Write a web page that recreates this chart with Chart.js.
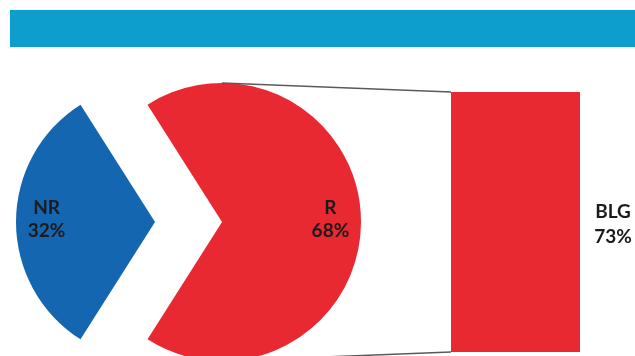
<!DOCTYPE html>
<html>
<head>
<meta charset="utf-8">
<script src="https://cdn.jsdelivr.net/npm/chart.js@4.4.1/dist/chart.umd.min.js"></script>
<style>
  html, body { margin: 0; padding: 0; background: #ffffff; }
  #stage { position: relative; width: 635px; height: 356px; overflow: hidden; }
  #band { position: absolute; left: 10px; top: 10px; width: 625px; height: 37px; background: #0e9ecd; }
  canvas { position: absolute; left: 0; top: 0; }
</style>
</head>
<body>
<div id="stage">
  <div id="band"></div>
  <canvas id="pieNR" width="635" height="356"></canvas>
  <canvas id="pieR" width="635" height="356"></canvas>
  <canvas id="barBLG" width="635" height="356"></canvas>
</div>
<script>
// Pie shares
const pieLabels = ['NR', 'R'];
const pieValues = [32, 68];
const pieColors = ['#1466b0', '#e92932'];

// Breakdown of the R slice
const barLabels = ['BLG'];
const barValues = [73];
const barColor = '#e92932';

const FONT = 'bold 19px Lato, "Open Sans", sans-serif';
const TEXT = '#1b1b1b';
const RADIUS = 139;

// Start so NR is centred on the left and R on the right
const startRotation = 90 + 180 - (pieValues[0] / 100) * 180;

function pieLabelPlugin(visibleIndex) {
  return {
    id: 'sliceLabel' + visibleIndex,
    afterDatasetsDraw(chart) {
      const arc = chart.getDatasetMeta(0).data[visibleIndex];
      const mid = (arc.startAngle + arc.endAngle) / 2;
      const r = arc.outerRadius * 0.78;
      const x = arc.x + Math.cos(mid) * r;
      const y = arc.y + Math.sin(mid) * r;
      const ctx = chart.ctx;
      ctx.save();
      ctx.font = FONT;
      ctx.fillStyle = TEXT;
      ctx.textAlign = 'center';
      ctx.textBaseline = 'middle';
      ctx.fillText(pieLabels[visibleIndex], x, y - 14);
      ctx.fillText(pieValues[visibleIndex] + '%', x, y + 9);
      ctx.restore();
    }
  };
}

function makePie(id, visibleIndex, padding) {
  const colors = pieColors.map((c, i) => i === visibleIndex ? c : 'rgba(0,0,0,0)');
  return new Chart(document.getElementById(id), {
    type: 'pie',
    data: {
      labels: pieLabels,
      datasets: [{
        data: pieValues,
        backgroundColor: colors,
        borderWidth: 0,
        clip: false
      }]
    },
    options: {
      responsive: false,
      animation: false,
      rotation: startRotation,
      radius: RADIUS,
      layout: { padding: padding },
      plugins: { legend: { display: false }, tooltip: { enabled: false } },
      events: []
    },
    plugins: [pieLabelPlugin(visibleIndex)]
  });
}

// The two slices are pulled apart: NR to the left, R to the right
const pieNR = makePie('pieNR', 0, { left: 0, right: 325, top: 88, bottom: 0 });
const pieR = makePie('pieR', 1, { left: 0, right: 191, top: 88, bottom: 0 });

// Connector lines from the R slice to the bar, plus the bar label
const connectorPlugin = {
  id: 'connectors',
  afterDatasetsDraw(chart) {
    const arc = pieR.getDatasetMeta(0).data[1];
    const bar = chart.getDatasetMeta(0).data[0];
    const left = bar.x - bar.width / 2;
    const right = bar.x + bar.width / 2;
    const top = Math.min(bar.y, bar.base);
    const bottom = Math.max(bar.y, bar.base);
    const ctx = chart.ctx;
    ctx.save();
    ctx.strokeStyle = '#5a5a5a';
    ctx.lineWidth = 1.5;
    ctx.beginPath();
    ctx.moveTo(arc.x, arc.y - arc.outerRadius);
    ctx.lineTo(left, top);
    ctx.moveTo(arc.x, arc.y + arc.outerRadius);
    ctx.lineTo(left, bottom);
    ctx.stroke();

    ctx.font = FONT;
    ctx.fillStyle = TEXT;
    ctx.textAlign = 'center';
    ctx.textBaseline = 'middle';
    const cx = right + 33;
    const cy = (top + bottom) / 2;
    ctx.fillText(barLabels[0], cx, cy - 10);
    ctx.fillText(barValues[0] + '%', cx, cy + 15);
    ctx.restore();
  }
};

new Chart(document.getElementById('barBLG'), {
  type: 'bar',
  data: {
    labels: barLabels,
    datasets: [{
      data: barValues,
      backgroundColor: barColor,
      borderWidth: 0,
      categoryPercentage: 1,
      barPercentage: 1
    }]
  },
  options: {
    responsive: false,
    animation: false,
    layout: { padding: { left: 451, right: 55, top: 92, bottom: 4 } },
    scales: {
      x: { display: false },
      y: { display: false, min: 0, max: barValues[0] }
    },
    plugins: { legend: { display: false }, tooltip: { enabled: false } },
    events: []
  },
  plugins: [connectorPlugin]
});
</script>
</body>
</html>
